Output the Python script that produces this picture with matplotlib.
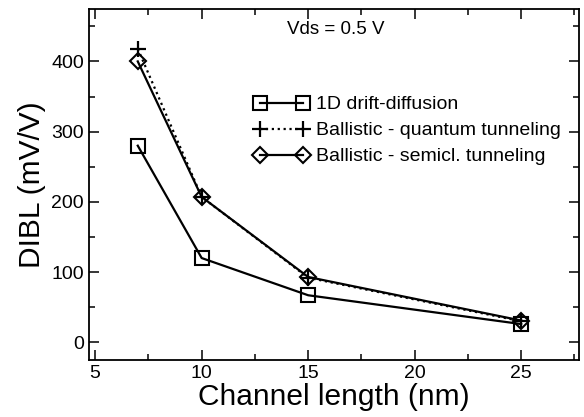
import numpy as np
import matplotlib
matplotlib.use("Agg")
import matplotlib.pyplot as plt
from matplotlib.ticker import MultipleLocator

plt.rcParams['font.family'] = ['Liberation Sans', 'DejaVu Sans']

# channel length (nm)
L = [7, 10, 15, 25]
# DIBL (mV/V)
dibl_dd = [280, 120, 67, 26]
dibl_qt = [418, 207, 92, 30]
dibl_sc = [400, 207, 93, 31]

labels = ["1D drift-diffusion",
          "Ballistic - quantum tunneling",
          "Ballistic - semicl. tunneling"]

fig = plt.figure(figsize=(5.84, 4.17), dpi=100)
ax = fig.add_axes([0.152, 0.137, 0.839, 0.842])

ax.plot(L, dibl_dd, '-', color='black', lw=1.6, marker='s', ms=9.5,
        mfc='none', mec='black', mew=1.5, label=labels[0])
ax.plot(L, dibl_qt, ':', color='black', lw=1.6, marker='+', ms=12,
        mew=1.6, label=labels[1])
ax.plot(L, dibl_sc, '-', color='black', lw=1.6, marker='D', ms=8,
        mfc='none', mec='black', mew=1.5, label=labels[2])

ax.set_xlim(4.7, 27.7)
ax.set_ylim(-25, 475)
ax.xaxis.set_major_locator(MultipleLocator(5))
ax.xaxis.set_minor_locator(MultipleLocator(2.5))
ax.yaxis.set_major_locator(MultipleLocator(100))
ax.yaxis.set_minor_locator(MultipleLocator(50))
ax.tick_params(which='both', direction='in', top=True, right=True,
               labelsize=14, width=1.1)
ax.tick_params(which='major', length=7)
ax.tick_params(which='minor', length=4)
for s in ax.spines.values():
    s.set_linewidth(1.3)

ax.set_xlabel("Channel length (nm)", fontsize=21.5, labelpad=1)
ax.set_ylabel("DIBL (mV/V)", fontsize=21.5, labelpad=4)

ax.text(14.0, 446, "Vds = 0.5 V", fontsize=13.5, va='center', ha='left')

ax.legend(loc='upper left', bbox_to_anchor=(0.338, 0.752), frameon=False,
          numpoints=2, handlelength=2.8, handletextpad=0.35,
          borderpad=0, borderaxespad=0, labelspacing=0.43, fontsize=14)

fig.savefig("out.png", dpi=100)
